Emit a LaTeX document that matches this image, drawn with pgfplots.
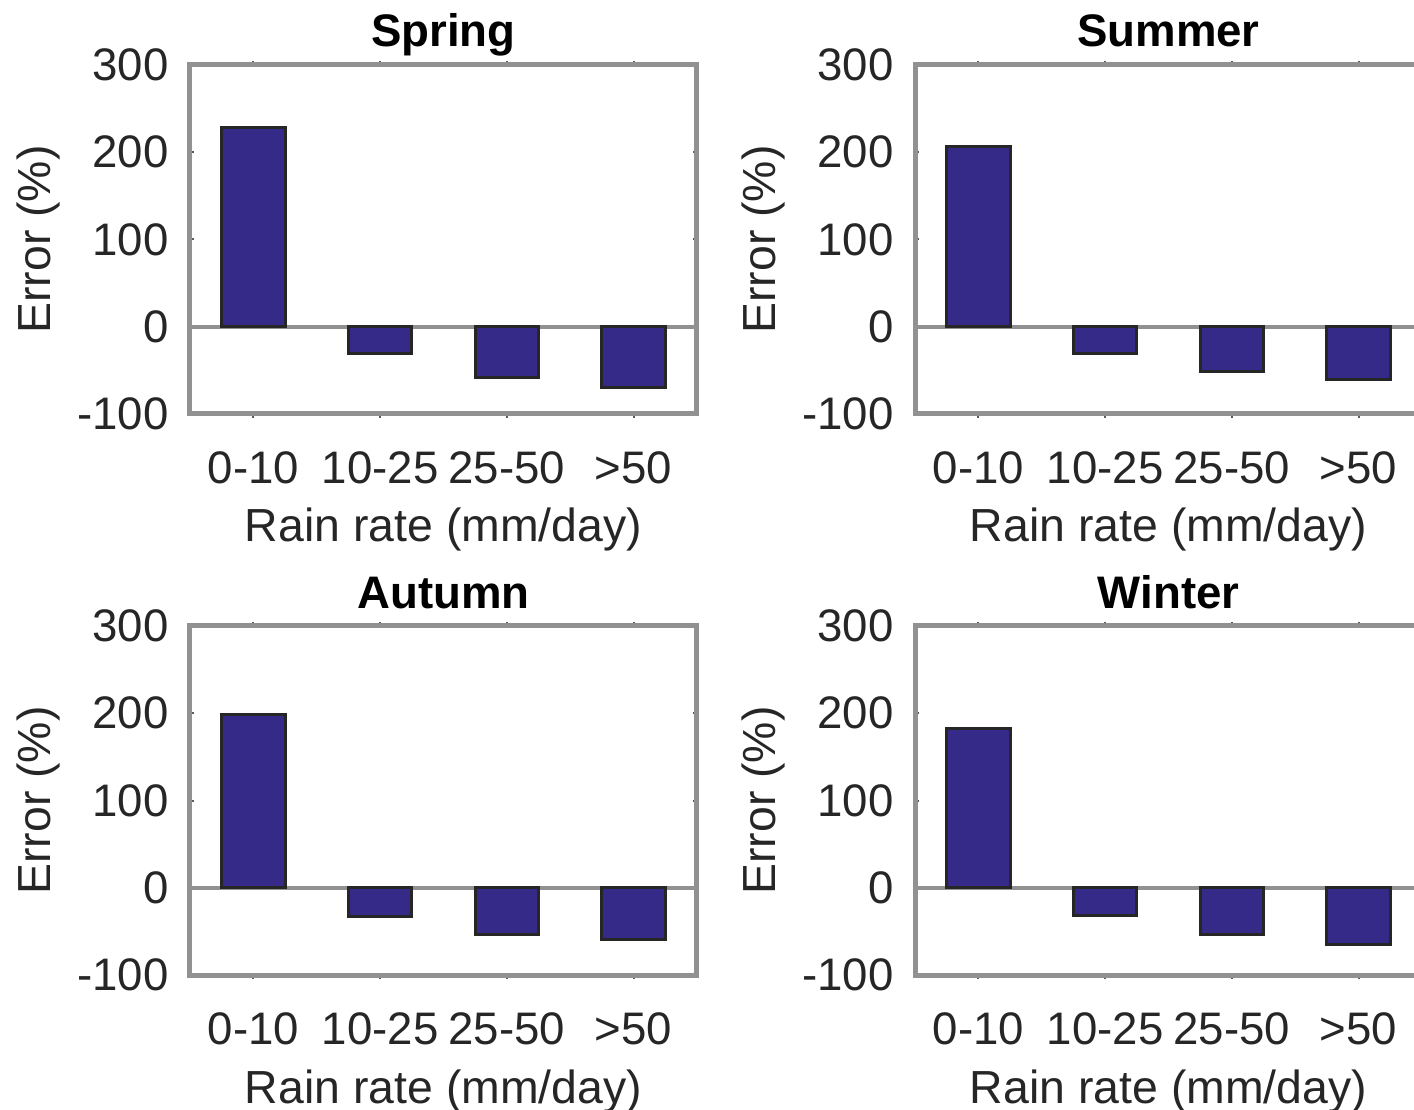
\documentclass[border=0pt]{standalone}
\usepackage{fontspec}
\setmainfont{Liberation Sans}
\usepackage{pgfplots}
\pgfplotsset{compat=1.18}
\definecolor{barc}{RGB}{53,42,135}
\definecolor{axc}{RGB}{145,145,145}
\definecolor{txt}{RGB}{38,38,38}
\pgfplotsset{
 season/.style={
  scale only axis, width=253.5pt, height=174.5pt, anchor=south west,
  xmin=0.5, xmax=4.5, ymin=-100, ymax=300,
  xtick={1,2,3,4}, xticklabels={0-10,10-25,25-50,>50},
  ytick={-100,0,100,200,300}, yticklabels={-100,0,100,200,300},
  axis line style={axc, line width=2.5pt},
  tick align=inside, major tick length=2pt,
  tick style={black!65, line width=1pt},
  tick label style={font=\fontsize{22.8}{27}\selectfont, text=txt},
  xticklabel style={inner sep=0pt, anchor=north, yshift=-16.5pt},
  yticklabel style={inner sep=0pt, anchor=east, xshift=-10.5pt},
  label style={font=\fontsize{23.2}{27}\selectfont, text=txt},
  xlabel={Rain rate (mm/day)}, ylabel={Error (\%)},
  xlabel style={at={(axis description cs:0.5,0)}, anchor=base, yshift=-64pt},
  ylabel style={at={(axis description cs:-0.2761,0.5)}, anchor=base},
  title style={at={(axis description cs:0.5,1)}, anchor=base, yshift=3pt,
    font=\fontsize{22.8}{27}\selectfont\bfseries, text=black},
  ybar, bar width=0.5,
 },
 bars/.style={fill=barc, draw=black!85, line width=1.5pt},
}
\begin{document}
\begin{tikzpicture}
\begin{axis}[season, at={(95pt,347.5pt)}, title={Spring}]
\draw[axc, line width=2pt] (axis cs:0.5,0) -- (axis cs:4.5,0);
\addplot[bars] coordinates {(1,228) (2,-31) (3,-58) (4,-70)};
\end{axis}
\begin{axis}[season, at={(457.5pt,347.5pt)}, title={Summer}]
\draw[axc, line width=2pt] (axis cs:0.5,0) -- (axis cs:4.5,0);
\addplot[bars] coordinates {(1,207) (2,-31) (3,-51) (4,-61)};
\end{axis}
\begin{axis}[season, at={(95pt,67pt)}, title={Autumn}]
\draw[axc, line width=2pt] (axis cs:0.5,0) -- (axis cs:4.5,0);
\addplot[bars] coordinates {(1,198) (2,-33) (3,-54) (4,-59)};
\end{axis}
\begin{axis}[season, at={(457.5pt,67pt)}, title={Winter}]
\draw[axc, line width=2pt] (axis cs:0.5,0) -- (axis cs:4.5,0);
\addplot[bars] coordinates {(1,182) (2,-32) (3,-54) (4,-65)};
\end{axis}
\pgfresetboundingbox
\useasboundingbox (0,0) rectangle (707pt,554.5pt);
\end{tikzpicture}
\end{document}
